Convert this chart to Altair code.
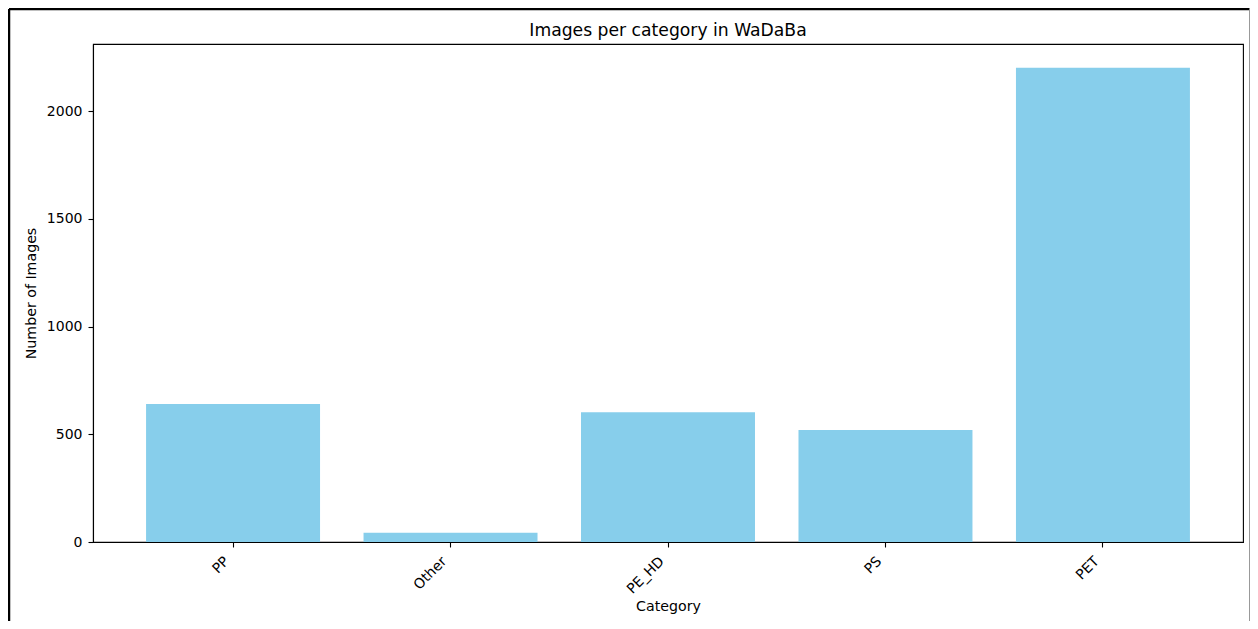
import altair as alt
import pandas as pd

categories = ["PP", "Other", "PE_HD", "PS", "PET"]
counts = [640, 43, 602, 520, 2201]
y_ticks = [0, 500, 1000, 1500, 2000]

df = pd.DataFrame({"Category": categories, "Number of Images": counts})

W, H = 1150, 498
PL, PT, PR, PB = 85, 36, 7, 79
FONT = "DejaVu Sans"

bars = alt.Chart(df).mark_bar(color="#87CEEB").encode(
    x=alt.X(
        "Category:N",
        sort=categories,
        scale=alt.Scale(paddingInner=0.2, paddingOuter=0.244),
        axis=alt.Axis(
            labelAngle=-45, labelAlign="right", labelBaseline="top",
            labelOffset=-11, labelPadding=7, tickSize=5,
            title="Category", titleY=57, titleBaseline="top",
        ),
    ),
    y=alt.Y(
        "Number of Images:Q",
        scale=alt.Scale(domain=[0, 2311], nice=False, zero=True),
        axis=alt.Axis(
            values=y_ticks, format="d", tickSize=5, labelPadding=6, grid=False,
            title="Number of Images", titleX=-55, titleY=H / 2,
            titleAngle=-90, titleBaseline="bottom", titleAlign="center",
        ),
    ),
)

one = pd.DataFrame({"a": [0]})
left_rule = alt.Chart(one).mark_rule(color="black", strokeWidth=2.5).encode(
    x=alt.value(-PL + 1), y=alt.value(-PT + 1), y2=alt.value(H + PB)
)
top_rule = alt.Chart(one).mark_rule(color="black", strokeWidth=2.5).encode(
    x=alt.value(-PL + 1), x2=alt.value(W + PR - 0.5), y=alt.value(-PT + 1)
)
right_rule = alt.Chart(one).mark_rule(color="#999999", strokeWidth=1).encode(
    x=alt.value(W + PR - 0.5), y=alt.value(-PT + 1), y2=alt.value(H + PB)
)

chart = alt.layer(bars, left_rule, top_rule, right_rule).properties(
    width=W,
    height=H,
    autosize=alt.AutoSizeParams(type="none"),
    padding={"left": PL, "top": PT, "right": PR, "bottom": PB},
    title=alt.TitleParams(
        "Images per category in WaDaBa", fontSize=17.2, font=FONT,
        fontWeight="normal", offset=0, dy=31, anchor="middle", color="black",
        frame="group",
    ),
).configure_axis(
    domainColor="black", tickColor="black", labelColor="black", titleColor="black",
    labelFont=FONT, titleFont=FONT, labelFontSize=14, titleFontSize=14.2,
    titleFontWeight="normal", domainWidth=1.1, tickWidth=1.1,
).configure_view(stroke="black", strokeWidth=1.1)

chart.save("out.html", embed_options={"renderer": "svg", "actions": False})
